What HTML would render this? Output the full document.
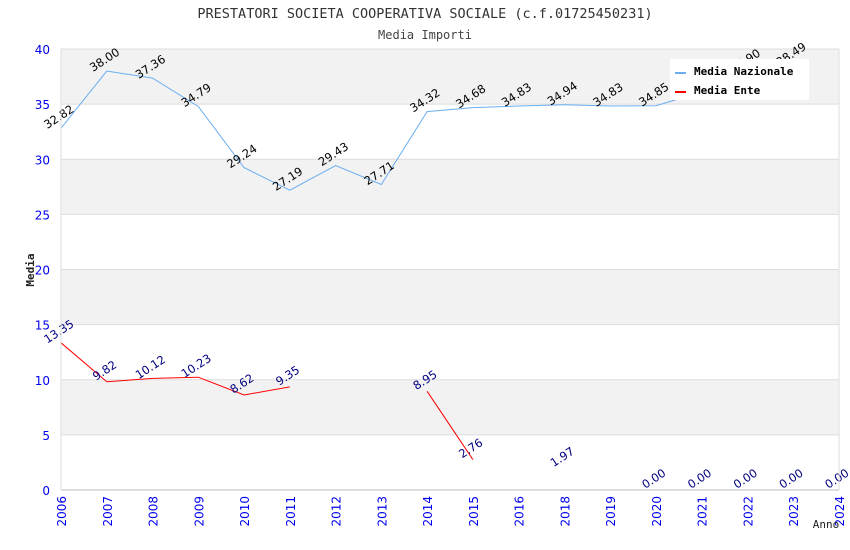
<!DOCTYPE html>
<html><head><meta charset="utf-8"><style>
body{margin:0;background:#fff;}
svg{display:block;}
.mono{font-family:"DejaVu Sans Mono","Liberation Mono",monospace;}
.sans{font-family:"DejaVu Sans","Liberation Sans",sans-serif;}
</style></head><body>
<svg id="chart" width="850" height="550" xmlns="http://www.w3.org/2000/svg" class="sans">
<text class="mono" x="425" y="18" text-anchor="middle" font-size="13.5" fill="#333">PRESTATORI SOCIETA COOPERATIVA SOCIALE (c.f.01725450231)</text>
<text class="mono" x="425" y="39" text-anchor="middle" font-size="12" fill="#444">Media Importi</text>
<g id="grid"></g>
<g id="series"></g>
<g id="labels"></g>
<g id="axes"></g>
<text class="mono" transform="translate(34,270) rotate(-90)" text-anchor="middle" font-size="11" font-weight="bold" fill="#222">Media</text>
<text class="mono" x="826" y="528" text-anchor="middle" font-size="11" fill="#222">Anno</text>
<g>
<rect x="670" y="59" width="139" height="41" fill="#fff"/>
<line x1="675" y1="73" x2="686" y2="73" stroke="#6aaef0" stroke-width="2"/>
<text class="mono" x="694" y="75" font-size="11" font-weight="bold" fill="#000">Media Nazionale</text>
<line x1="675" y1="92" x2="686" y2="92" stroke="#f00" stroke-width="2"/>
<text class="mono" x="694" y="94" font-size="11" font-weight="bold" fill="#000">Media Ente</text>
</g>
</svg>
<script>
const years = [2006,2007,2008,2009,2010,2011,2012,2013,2014,2015,2016,2018,2019,2020,2021,2022,2023,2024];
const nazionale = [32.82,38.00,37.36,34.79,29.24,27.19,29.43,27.71,34.32,34.68,34.83,34.94,34.83,34.85,36.10,37.90,38.49,null];
const ente = [13.35,9.82,10.12,10.23,8.62,9.35,null,null,8.95,2.76,null,1.97,null,0.00,0.00,0.00,0.00,0.00];
const yTicks = [0,5,10,15,20,25,30,35,40];
const NS="http://www.w3.org/2000/svg";
const x0=61,x1=839,yTop=49,yBot=490,yMax=40;
function X(i){return x0+(x1-x0)*i/(years.length-1);}
function Y(v){return yBot-(yBot-yTop)*v/yMax;}
function mk(tag,attrs,parent){const e=document.createElementNS(NS,tag);for(const k in attrs)e.setAttribute(k,attrs[k]);parent.appendChild(e);return e;}
const grid=document.getElementById('grid'), axes=document.getElementById('axes');
for(let t=0;t<yTicks.length-1;t++){
  if(t%2===1){const r=mk('rect',{x:x0,y:Y(yTicks[t+1]),width:x1-x0,height:Y(yTicks[t])-Y(yTicks[t+1]),fill:'#f2f2f2'},grid);
  
  }
}
yTicks.forEach(v=>{
  const l=mk('line',{x1:x0,x2:x1,y1:Y(v),y2:Y(v),stroke:'#ddd'},grid);
  
  
  const t=mk('text',{x:50,y:Y(v)+5,'text-anchor':'end','font-size':12,fill:'#0000ee'},grid);
  t.textContent=v;
  
  
});
mk('line',{x1:x0,x2:x0,y1:yTop,y2:yBot,stroke:'#ddd'},axes);
mk('line',{x1:x1,x2:x1,y1:yTop,y2:yBot,stroke:'#ddd'},axes);
mk('line',{x1:x0,x2:x1,y1:yBot,y2:yBot,stroke:'#ddd','stroke-width':2},axes);
years.forEach((yr,i)=>{
  const t=mk('text',{transform:`translate(${X(i)+5},${yBot+6}) rotate(-90)`,'text-anchor':'end','font-size':12,fill:'#0000ee'},grid);
  t.textContent=yr;
  
  
});
const series=document.getElementById('series'), labels=document.getElementById('labels');
function draw(vals,color,lblColor,name){
  let seg=[];
  const segs=[];
  vals.forEach((v,i)=>{if(v===null){if(seg.length)segs.push(seg);seg=[];}else seg.push([X(i),Y(v)]);});
  if(seg.length)segs.push(seg);
  segs.forEach(s=>{if(s.length>1){
    const p=mk('polyline',{points:s.map(q=>q.join(',')).join(' '),fill:'none',stroke:color,'stroke-width':1},series);
    
    
  }});
  vals.forEach((v,i)=>{if(v===null)return;
    const t=mk('text',{transform:`translate(${X(i)},${Y(v)-8}) rotate(-33)`,'text-anchor':'middle','font-size':11.5,fill:lblColor},labels);
    t.textContent=v.toFixed(2);
    
    
  });
}
draw(nazionale,'#6aaef0','#000','nazionale');
draw(ente,'#f00','#000080','ente');
</script>
</body></html>
